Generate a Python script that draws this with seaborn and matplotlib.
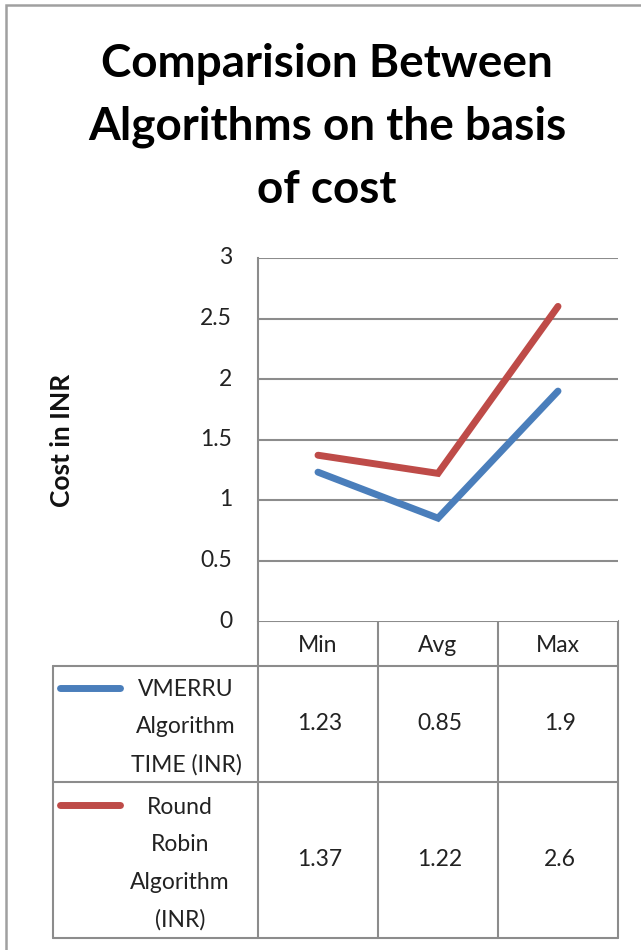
import matplotlib
matplotlib.use("Agg")
import matplotlib.pyplot as plt
import matplotlib.transforms as mtransforms
import seaborn as sns
import pandas as pd
from matplotlib.lines import Line2D
from matplotlib.patches import Rectangle

categories = ["Min", "Avg", "Max"]
series_names = ["VMERRU\nAlgorithm\nTIME (INR)", "Round\nRobin\nAlgorithm\n(INR)"]
vmerru = [1.23, 0.85, 1.9]
round_robin = [1.37, 1.22, 2.6]
value_labels = [["1.23", "0.85", "1.9"], ["1.37", "1.22", "2.6"]]
yticks = [0, 0.5, 1, 1.5, 2, 2.5, 3]
ytick_labels = ["0", "0.5", "1", "1.5", "2", "2.5", "3"]
title = "Comparision Between\nAlgorithms on the basis\nof cost"
ylabel = "Cost in INR"
colors = ["#4A7EBB", "#BE4B48"]

sns.set_theme(style="white")
plt.rcParams['font.family'] = ['Lato', 'DejaVu Sans']

W, H = 641, 950
fig = plt.figure(figsize=(W / 100, H / 100), dpi=100)

def fx(px):
    return px / W

def fy(py):
    return 1 - py / H

fig.patches.append(Rectangle((fx(6), fy(1000)), fx(700), fy(5) - fy(1000),
                             transform=fig.transFigure, fill=False,
                             edgecolor="#A0A0A0", linewidth=1.8))

L, R, T, B = 258, 618, 258, 621
ax = fig.add_axes([fx(L), fy(B), fx(R) - fx(L), fy(T) - fy(B)])

df = pd.DataFrame({
    "cat": categories * 2,
    "x": list(range(len(categories))) * 2,
    "value": vmerru + round_robin,
    "series": [series_names[0]] * 3 + [series_names[1]] * 3,
})
sns.lineplot(data=df, x="x", y="value", hue="series", palette=colors,
             linewidth=5, ax=ax, legend=False, sort=False,
             solid_capstyle="round", solid_joinstyle="miter")
ax.set_xlim(-0.5, len(categories) - 0.5)
ax.set_ylim(0, 3)
ax.set_yticks(yticks)
ax.set_yticklabels([])
ax.set_xticks([])
ax.set_xlabel("")
ax.set_ylabel("")
ax.tick_params(axis="y", length=0)
label_tr = mtransforms.offset_copy(ax.get_yaxis_transform(), fig=fig,
                                   x=-26, y=0, units="dots")
for yv, lab in zip(yticks, ytick_labels):
    ax.text(0, yv, lab, transform=label_tr, ha="right", va="center",
            fontsize=16.5, color="#222222")
for yv in yticks[1:]:
    ax.axhline(yv, color="#8C8C8C", linewidth=1.5, zorder=0)
for s in ["top", "right", "bottom"]:
    ax.spines[s].set_visible(False)
ax.spines["left"].set_color("#8C8C8C")
ax.spines["left"].set_linewidth(1.5)

fig.text(fx(62), fy(440), ylabel, rotation=90, ha="center", va="center",
         fontsize=19, fontweight="bold", color="#111111")

fig.text(fx(327), fy(127), title, ha="center", va="center", fontsize=33,
         fontweight="bold", color="#000000", linespacing=1.6)

tax = fig.add_axes([0, 0, 1, 1], zorder=-1)
tax.set_xlim(0, W)
tax.set_ylim(H, 0)
tax.axis("off")
gc = "#8C8C8C"
lw = 1.5
col_edges = [258, 378, 498, 618]
row_edges = [621, 666, 782, 938]
leg_left = 53
tax.plot([258, 618], [621, 621], color=gc, lw=lw)
for yy in row_edges[1:]:
    tax.plot([leg_left, 618], [yy, yy], color=gc, lw=lw)
for xx in col_edges:
    tax.plot([xx, xx], [621, 938], color=gc, lw=lw)
tax.plot([leg_left, leg_left], [666, 938], color=gc, lw=lw)

for i, c in enumerate(categories):
    xc = (col_edges[i] + col_edges[i + 1]) / 2
    tax.text(xc, 645, c, ha="center", va="center", fontsize=16.5, color="#222222")

for r in range(2):
    yc = (row_edges[r + 1] + row_edges[r + 2]) / 2
    for i in range(3):
        xc = (col_edges[i] + col_edges[i + 1]) / 2
        tax.text(xc + 2, yc, value_labels[r][i], ha="center", va="center",
                 fontsize=16.5, color="#222222")

tax.add_line(Line2D([60, 120], [688, 688], color=colors[0], lw=5,
                    solid_capstyle="round"))
tax.text(186, 727, series_names[0], ha="center", va="center", fontsize=16.5,
         color="#222222", linespacing=1.95)
tax.add_line(Line2D([60, 120], [805, 805], color=colors[1], lw=5,
                    solid_capstyle="round"))
tax.text(180, 864, series_names[1], ha="center", va="center", fontsize=16.5,
         color="#222222", linespacing=1.95)

fig.savefig("out.png", dpi=100, facecolor="white")
